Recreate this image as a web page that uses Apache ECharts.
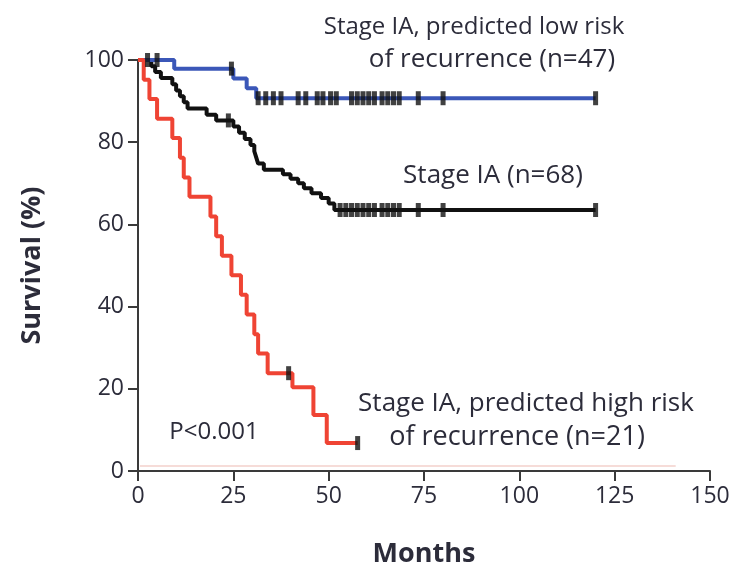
<!DOCTYPE html>
<html>
<head>
<meta charset="utf-8">
<script src="https://cdn.jsdelivr.net/npm/echarts@6/dist/echarts.min.js"></script>
<style>
  html, body { margin: 0; padding: 0; background: #fff; }
  #chart { width: 734px; height: 569px; }
</style>
</head>
<body>
<div id="chart"></div>
<script>
// Kaplan-Meier steps: [month, survival %]
const lowRiskSteps = [[0, 100], [9.5, 97.9], [25, 95.5], [28.5, 93.1], [31, 90.7], [120, 90.7]];
const lowRiskCensored = [
  [2.5, 100], [5, 100], [24.5, 97.9],
  [31.5, 90.7], [33.5, 90.7], [35.5, 90.7], [37.5, 90.7], [42, 90.7], [44, 90.7],
  [47, 90.7], [48.5, 90.7], [50.5, 90.7], [52, 90.7], [56, 90.7], [57.5, 90.7],
  [59, 90.7], [60.5, 90.7], [62, 90.7], [64, 90.7], [65.5, 90.7], [67, 90.7],
  [68.5, 90.7], [73.5, 90.7], [80, 90.7], [120, 90.7]
];

const allSteps = [
  [0, 100], [3.5, 98.5], [4.5, 97.1], [6, 95.6], [9, 94.1], [10, 92.6], [11, 91.2],
  [12, 89.7], [13, 88.2], [18, 86.7], [20.5, 85.3], [25, 83.8], [26.5, 82.3],
  [28, 80.8], [29.5, 79.3], [30.5, 77.8], [31, 76.3], [31.5, 74.8], [33, 73.3],
  [38, 72.2], [40, 71.1], [42, 70.0], [43.5, 68.8], [45.5, 67.6], [48, 66.4],
  [50, 65.1], [51.5, 63.5], [120, 63.5]
];
const allCensored = [
  [23.7, 85.3],
  [53, 63.5], [54.5, 63.5], [56, 63.5], [57.5, 63.5], [59, 63.5], [60.5, 63.5],
  [62, 63.5], [64, 63.5], [65.5, 63.5], [67, 63.5], [68.5, 63.5], [73.5, 63.5],
  [80, 63.5], [120, 63.5]
];

const highRiskSteps = [
  [0, 100], [1.5, 95.2], [3, 90.5], [5, 85.7], [9, 81.0], [11, 76.2], [12, 71.4],
  [13.5, 66.7], [19, 61.9], [20.5, 57.1], [22, 52.4], [24.5, 47.6], [27, 42.9],
  [28.5, 38.1], [30.5, 33.3], [31.5, 28.6], [34, 23.8], [40.5, 20.4], [46, 13.6],
  [49.5, 6.8], [57.6, 6.8]
];
const highRiskCensored = [[39.5, 23.8], [57.6, 6.8]];

const xTicks = [0, 25, 50, 75, 100, 125, 150];
const yTicks = [0, 20, 40, 60, 80, 100];

const textFont = '"Open Sans", "Noto Sans", sans-serif';
const textColor = '#2c2c3a';

const chart = echarts.init(document.getElementById('chart'));

const stepLine = (name, data, color) => ({
  name: name,
  type: 'line',
  step: 'end',
  data: data,
  symbol: 'none',
  lineStyle: { color: color, width: 4 },
  z: 2
});

const ticks = (data) => ({
  type: 'scatter',
  data: data,
  symbol: 'rect',
  symbolSize: [5, 14],
  itemStyle: { color: '#111' },
  z: 4
});

const axisCommon = {
  axisLine: { show: true, lineStyle: { color: '#3a3a3a', width: 2 } },
  axisTick: { show: true, length: 10, lineStyle: { color: '#3a3a3a', width: 2 } },
  splitLine: { show: false },
  axisLabel: { color: textColor, fontFamily: textFont, fontSize: 23 }
};

const note = (text, cx, cy, size) => ({
  type: 'text',
  x: cx,
  y: cy,
  style: {
    text: text,
    font: size + 'px ' + textFont,
    fill: textColor,
    align: 'center',
    verticalAlign: 'middle'
  }
});

const option = {
  animation: false,
  backgroundColor: '#fff',
  grid: { left: 138, right: 24, top: 60, bottom: 98, containLabel: false, outerBoundsMode: 'none' },
  xAxis: Object.assign({}, axisCommon, {
    type: 'value',
    min: xTicks[0],
    max: xTicks[xTicks.length - 1],
    interval: 25,
    name: 'Months',
    nameLocation: 'middle',
    nameGap: 70,
    nameTextStyle: { color: textColor, fontFamily: textFont, fontSize: 27, fontWeight: 'bold' },
    axisLabel: Object.assign({}, axisCommon.axisLabel, { margin: 14 })
  }),
  yAxis: Object.assign({}, axisCommon, {
    type: 'value',
    min: yTicks[0],
    max: yTicks[yTicks.length - 1],
    interval: 20,
    name: 'Survival (%)',
    nameLocation: 'middle',
    nameGap: 92,
    nameTextStyle: { color: textColor, fontFamily: textFont, fontSize: 27, fontWeight: 'bold' },
    axisLabel: Object.assign({}, axisCommon.axisLabel, { margin: 14 })
  }),
  series: [
    Object.assign(stepLine('Stage IA', allSteps, '#111111'), {
      markLine: {
        silent: true,
        symbol: 'none',
        label: { show: false },
        lineStyle: { color: '#f6dcd8', width: 2, type: 'solid' },
        data: [[{ coord: [0.5, 1.3] }, { coord: [141, 1.3] }]]
      }
    }),
    stepLine('Stage IA, predicted low risk', lowRiskSteps, '#3b57b8'),
    stepLine('Stage IA, predicted high risk', highRiskSteps, '#ef4434'),
    ticks(lowRiskCensored),
    ticks(allCensored),
    ticks(highRiskCensored)
  ],
  graphic: [
    note('Stage IA, predicted low risk', 474, 27, 24),
    note('of recurrence (n=47)', 492, 60, 26),
    note('Stage IA (n=68)', 493, 176, 26),
    note('Stage IA, predicted high risk', 526, 404, 26),
    note('of recurrence (n=21)', 517, 437, 27),
    note('P<0.001', 214, 432, 24)
  ]
};

chart.setOption(option);
</script>
</body>
</html>
